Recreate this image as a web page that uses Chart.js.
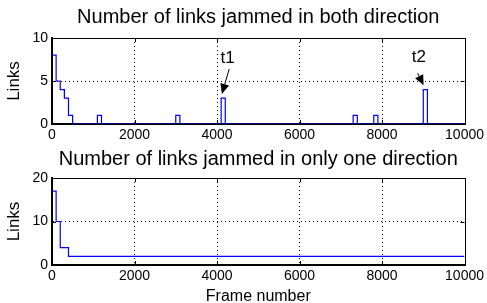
<!DOCTYPE html>
<html>
<head>
<meta charset="utf-8">
<script src="https://cdn.jsdelivr.net/npm/chart.js@4.4.0/dist/chart.umd.min.js"></script>
<style>
html, body { margin: 0; padding: 0; background: #fff; width: 487px; height: 303px; overflow: hidden; }
canvas { position: absolute; left: 0; }
#bothCanvas { top: 0; }
#oneCanvas { top: 150px; }
</style>
</head>
<body>
<canvas id="bothCanvas" width="487" height="150"></canvas>
<canvas id="oneCanvas" width="487" height="160"></canvas>
<script>
// frame where each step starts, and number of links from there on
var bothFrames = [0, 100, 200, 300, 400, 500, 1100, 1200, 3000, 3100, 4100, 4200, 7300, 7400, 7800, 7900, 9000, 9100, 10000];
var bothLinks  = [8, 5, 4, 3, 1, 0, 1, 0, 1, 0, 3, 0, 1, 0, 1, 0, 4, 0, 0];
var oneFrames = [0, 100, 200, 400, 10000];
var oneLinks  = [17, 10, 4, 2, 2];
var frameTicks = [0, 2000, 4000, 6000, 8000, 10000];
var bothLinkTicks = [0, 5, 10];
var oneLinkTicks = [0, 10, 20];
var markLabels = ['t1', 't2'];

var FONT = "'Liberation Sans', Arial, Helvetica, sans-serif";

function toPoints(xs, ys) {
    var pts = [];
    xs.forEach(function (x, i) { pts.push({ x: x, y: ys[i] }); });
    return pts;
}

// box round the plot, with inward ticks like matlab, and the title over the plot area
var framePlugin = {
    id: 'frame',
    afterDraw: function (chart) {
        var ctx = chart.ctx, a = chart.chartArea;
        var xs = chart.scales.x, ys = chart.scales.y;
        var o = chart.options.plugins.frame;
        ctx.save();
        ctx.strokeStyle = '#000';
        ctx.lineWidth = 1;
        ctx.strokeRect(Math.round(a.left) + 0.5, Math.round(a.top) + 0.5, Math.round(a.right - a.left), Math.round(a.bottom - a.top));
        ctx.beginPath();
        xs.ticks.forEach(function (t) {
            var px = Math.round(xs.getPixelForValue(t.value)) + 0.5;
            ctx.moveTo(px, a.top); ctx.lineTo(px, a.top + 4);
            ctx.moveTo(px, a.bottom); ctx.lineTo(px, a.bottom - 4);
        });
        ys.ticks.forEach(function (t) {
            var py = Math.round(ys.getPixelForValue(t.value)) + 0.5;
            ctx.moveTo(a.left, py); ctx.lineTo(a.left + 4, py);
            ctx.moveTo(a.right, py); ctx.lineTo(a.right - 4, py);
        });
        ctx.stroke();
        if (o.title) {
            ctx.fillStyle = '#000';
            ctx.font = '20px ' + FONT;
            ctx.textAlign = 'center';
            ctx.textBaseline = 'middle';
            ctx.fillText(o.title, (a.left + a.right) / 2, o.titleY);
        }
        ctx.restore();
    }
};

// t1 / t2 arrows on the top chart
var arrowPlugin = {
    id: 'arrows',
    afterDraw: function (chart) {
        var marks = chart.options.plugins.arrows.marks;
        if (!marks) return;
        var ctx = chart.ctx, xs = chart.scales.x, ys = chart.scales.y;
        ctx.save();
        ctx.fillStyle = '#000';
        ctx.strokeStyle = '#000';
        ctx.lineWidth = 1;
        marks.forEach(function (m) {
            var tx = xs.getPixelForValue(m.text[0]), ty = ys.getPixelForValue(m.text[1]);
            var x0 = xs.getPixelForValue(m.from[0]), y0 = ys.getPixelForValue(m.from[1]);
            var x1 = xs.getPixelForValue(m.to[0]), y1 = ys.getPixelForValue(m.to[1]);
            ctx.font = '17px ' + FONT;
            ctx.textAlign = 'center';
            ctx.textBaseline = 'middle';
            ctx.fillText(m.label, tx, ty);
            var ang = Math.atan2(y1 - y0, x1 - x0);
            var hl = 10, hw = 4.5;
            var bx = x1 - hl * Math.cos(ang), by = y1 - hl * Math.sin(ang);
            ctx.beginPath();
            ctx.moveTo(x0, y0);
            ctx.lineTo(bx, by);
            ctx.stroke();
            ctx.beginPath();
            ctx.moveTo(x1, y1);
            ctx.lineTo(bx + hw * Math.sin(ang), by - hw * Math.cos(ang));
            ctx.lineTo(bx - hw * Math.sin(ang), by + hw * Math.cos(ang));
            ctx.closePath();
            ctx.fill();
        });
        ctx.restore();
    }
};

function makeChart(canvas, title, frames, links, yTicks, yMax, opts) {
    var gridColor = function (c) {
        var v = c.tick.value;
        return (v === c.scale.min || v === c.scale.max) ? 'rgba(0,0,0,0)' : '#000';
    };
    var plain = function (v) { return String(v); };
    return new Chart(canvas, {
        type: 'line',
        data: {
            datasets: [{
                data: toPoints(frames, links),
                stepped: 'before',
                borderColor: '#0000ff',
                borderWidth: 1.2,
                pointRadius: 0,
                fill: false
            }]
        },
        options: {
            responsive: false,
            animation: false,
            events: [],
            layout: { padding: { left: 0, right: 19, top: opts.top, bottom: 0 } },
            plugins: {
                legend: { display: false },
                tooltip: { enabled: false },
                title: { display: false },
                frame: { title: title, titleY: opts.titleY },
                arrows: { marks: opts.marks }
            },
            scales: {
                x: {
                    type: 'linear',
                    min: 0,
                    max: 10000,
                    afterBuildTicks: function (s) { s.ticks = frameTicks.map(function (v) { return { value: v }; }); },
                    afterFit: function (s) { s.height = opts.xHeight; },
                    ticks: {
                        color: '#000',
                        font: { family: FONT, size: 14 },
                        padding: 3,
                        maxRotation: 0,
                        autoSkip: false,
                        callback: plain
                    },
                    grid: { color: gridColor, lineWidth: 1, drawTicks: false },
                    border: { display: true, color: '#000', width: 2, dash: [1, 3] },
                    title: {
                        display: !!opts.xTitle,
                        text: opts.xTitle || '',
                        color: '#000',
                        font: { family: FONT, size: 16 },
                        padding: { top: 0, bottom: opts.xTitlePad || 0 }
                    }
                },
                y: {
                    min: 0,
                    max: yMax,
                    afterBuildTicks: function (s) { s.ticks = yTicks.map(function (v) { return { value: v }; }); },
                    afterFit: function (s) { s.width = 52; },
                    ticks: {
                        color: '#000',
                        font: { family: FONT, size: 14 },
                        padding: 4,
                        callback: plain
                    },
                    grid: { color: gridColor, lineWidth: 1, drawTicks: false },
                    border: { display: true, color: '#000', width: 2, dash: [1, 3] },
                    title: {
                        display: true,
                        text: 'Links',
                        color: '#000',
                        font: { family: FONT, size: 17 },
                        padding: { top: 4, bottom: 0 }
                    }
                }
            }
        },
        plugins: [framePlugin, arrowPlugin]
    });
}

makeChart(document.getElementById('bothCanvas'), 'Number of links jammed in both direction',
    bothFrames, bothLinks, bothLinkTicks, 10, {
        top: 38, titleY: 17, xHeight: 26,
        marks: [
            { label: markLabels[0], text: [4255, 7.6], from: [4296, 6.4], to: [4118, 3.5] },
            { label: markLabels[1], text: [8894, 7.7], from: [8863, 5.9], to: [9007, 4.5] }
        ]
    });

makeChart(document.getElementById('oneCanvas'), 'Number of links jammed in only one direction',
    oneFrames, oneLinks, oneLinkTicks, 20, {
        top: 28, titleY: 9, xHeight: 45, xTitle: 'Frame number', xTitlePad: 4
    });
</script>
</body>
</html>
